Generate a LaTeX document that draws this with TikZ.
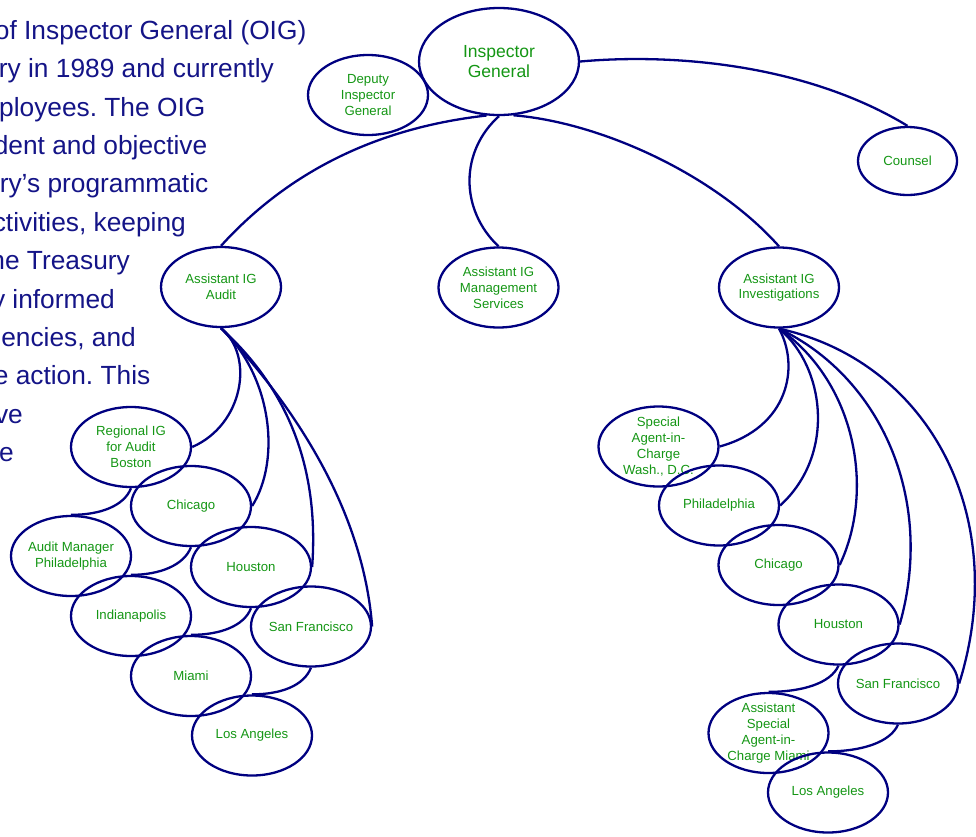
\documentclass[tikz,border=0pt]{standalone}
\usepackage{fontspec}
\setmainfont{Liberation Sans}
\usetikzlibrary{shapes.geometric}
\definecolor{navyline}{RGB}{0,0,128}
\definecolor{navytext}{RGB}{20,20,135}
\definecolor{nodegreen}{RGB}{20,150,20}
\frenchspacing
\begin{document}
\begin{tikzpicture}[x=1pt,y=-1pt,
  oval/.style={draw=navyline, line width=2.3pt, ellipse, minimum width=120pt, minimum height=80pt, inner sep=0pt},
  lbl/.style={text=nodegreen, font=\fontsize{13.2}{15.8}\selectfont, align=center, inner sep=0pt},
  link/.style={draw=navyline, line width=2.3pt},
  para/.style={text=navytext, font=\fontsize{26.3}{30}\selectfont, anchor=base east, inner sep=0pt}]
\useasboundingbox (0,0) rectangle (976,836);

% background paragraph (cut at the left edge)
\begin{scope}
\clip (0,0) rectangle (976,836);
\node[para] (p1) at (306.5,39.3) {of Inspector General (OIG)};
\node[para] (p2) at (274,77.7) {ry in 1989 and currently};
\node[para] (p3) at (205.5,116.1) {ployees. The OIG};
\node[para] (p4) at (207.5,154.5) {dent and objective};
\node[para] (p5) at (208.5,192.9) {ry’s programmatic};
\node[para] (p6) at (186,231.3) {ctivities, keeping};
\node[para] (p7) at (130,269.7) {he Treasury};
\node[para] (p8) at (115,308.1) {y informed};
\node[para] (p9) at (136,346.5) {encies, and};
\node[para] (p10) at (150.5,384.9) {e action. This};
\node[para] (p11) at (23,423.3) {ve};
\node[para] (p12) at (14,461.7) {e};
\end{scope}

% top level
\node[oval, minimum width=160pt, minimum height=107pt] (ig) at (499,61.5) {};
\node[lbl, font=\fontsize{17.5}{20}\selectfont] (igT) at (ig) {Inspector\\General};
\node[oval] (dep) at (368,95) {};
\node[lbl] (depT) at (dep) {Deputy\\Inspector\\General};
\node[oval, minimum width=99pt, minimum height=68pt] (cou) at (907.5,161) {};
\node[lbl] (couT) at (cou) {Counsel};
\node[oval] (aud) at (221,287) {};
\node[lbl] (audT) at (aud) {Assistant IG\\Audit};
\node[oval] (mgt) at (498.5,287.5) {};
\node[lbl] (mgtT) at (mgt) {Assistant IG\\Management\\Services};
\node[oval] (inv) at (779,287.5) {};
\node[lbl] (invT) at (inv) {Assistant IG\\Investigations};

% audit cluster
\node[oval] (bos) at (131,447) {};
\node[lbl] (bosT) at (bos) {Regional IG\\for Audit\\Boston};
\node[oval] (chi) at (191,506) {};
\node[lbl] (chiT) at (chi) {Chicago};
\node[oval] (amp) at (71,556) {};
\node[lbl] (ampT) at (amp) {Audit Manager\\Philadelphia};
\node[oval] (hou) at (251,567) {};
\node[lbl] (houT) at (hou) {Houston};
\node[oval] (ind) at (131,616) {};
\node[lbl] (indT) at (ind) {Indianapolis};
\node[oval] (sfo) at (311,626.5) {};
\node[lbl] (sfoT) at (sfo) {San Francisco};
\node[oval] (mia) at (191,676) {};
\node[lbl] (miaT) at (mia) {Miami};
\node[oval] (lax) at (252,735.5) {};
\node[lbl] (laxT) at (lax) {Los Angeles};

% investigations cluster
\node[oval] (was) at (658.5,446.5) {};
\node[lbl] (wasT) at (was) {Special\\Agent-in-\\Charge\\Wash., D.C.};
\node[oval] (rphi) at (719,505.5) {};
\node[lbl] (rphiT) at (rphi) {Philadelphia};
\node[oval] (rchi) at (778.5,565) {};
\node[lbl] (rchiT) at (rchi) {Chicago};
\node[oval] (rhou) at (838.5,624.5) {};
\node[lbl] (rhouT) at (rhou) {Houston};
\node[oval] (rsfo) at (898,683.5) {};
\node[lbl] (rsfoT) at (rsfo) {San Francisco};
\node[oval] (rmia) at (768.5,733) {};
\node[lbl] (rmiaT) at (rmia) {Assistant\\Special\\Agent-in-\\Charge Miami};
\node[oval] (rlax) at (828,792.5) {};
\node[lbl] (rlaxT) at (rlax) {Los Angeles};

% connectors from the Inspector General
\draw[link] (ig.257) .. controls +(-107,12) and +(69,-76) .. (aud.north);
\draw[link] (ig.south) .. controls +(-39,35) and +(-39,-37) .. (mgt.north);
\draw[link] (ig.-75) .. controls +(87,7) and +(-64,-72) .. (inv.north);
\draw[link] (ig.east) .. controls +(101,-9) and +(-97,-59) .. (cou.north);

% audit connectors
\draw[link] (aud.south) .. controls +(34,28) and +(51,-22) .. (bos.east);
\draw[link] (aud.south) .. controls +(51,48) and +(29,-46) .. (chi.east);
\draw[link] (aud.south) .. controls +(69,63) and +(7,-97) .. (hou.east);
\draw[link] (aud.south) .. controls +(74,78) and +(-9,-116) .. (sfo.east);
\draw[link] (bos.south) .. controls +(-7,18) and +(29,0) .. (amp.north);
\draw[link] (chi.south) .. controls +(-7,18) and +(29,0) .. (ind.north);
\draw[link] (hou.south) .. controls +(-7,18) and +(29,0) .. (mia.north);
\draw[link] (sfo.south) .. controls +(-7,18) and +(29,0) .. (lax.north);

% investigations connectors
\draw[link] (inv.south) .. controls +(21,38) and +(69,-19) .. (was.east);
\draw[link] (inv.south) .. controls +(46,38) and +(56,-51) .. (rphi.east);
\draw[link] (inv.south) .. controls +(76,53) and +(36,-76) .. (rchi.east);
\draw[link] (inv.south) .. controls +(101,48) and +(36,-126) .. (rhou.east);
\draw[link] (inv.south) .. controls +(151,33) and +(52,-166) .. (rsfo.east);
\draw[link] (rhou.south) .. controls +(-8,18) and +(33,0) .. (rmia.north);
\draw[link] (rsfo.south) .. controls +(-8,18) and +(33,0) .. (rlax.north);
\end{tikzpicture}
\end{document}
